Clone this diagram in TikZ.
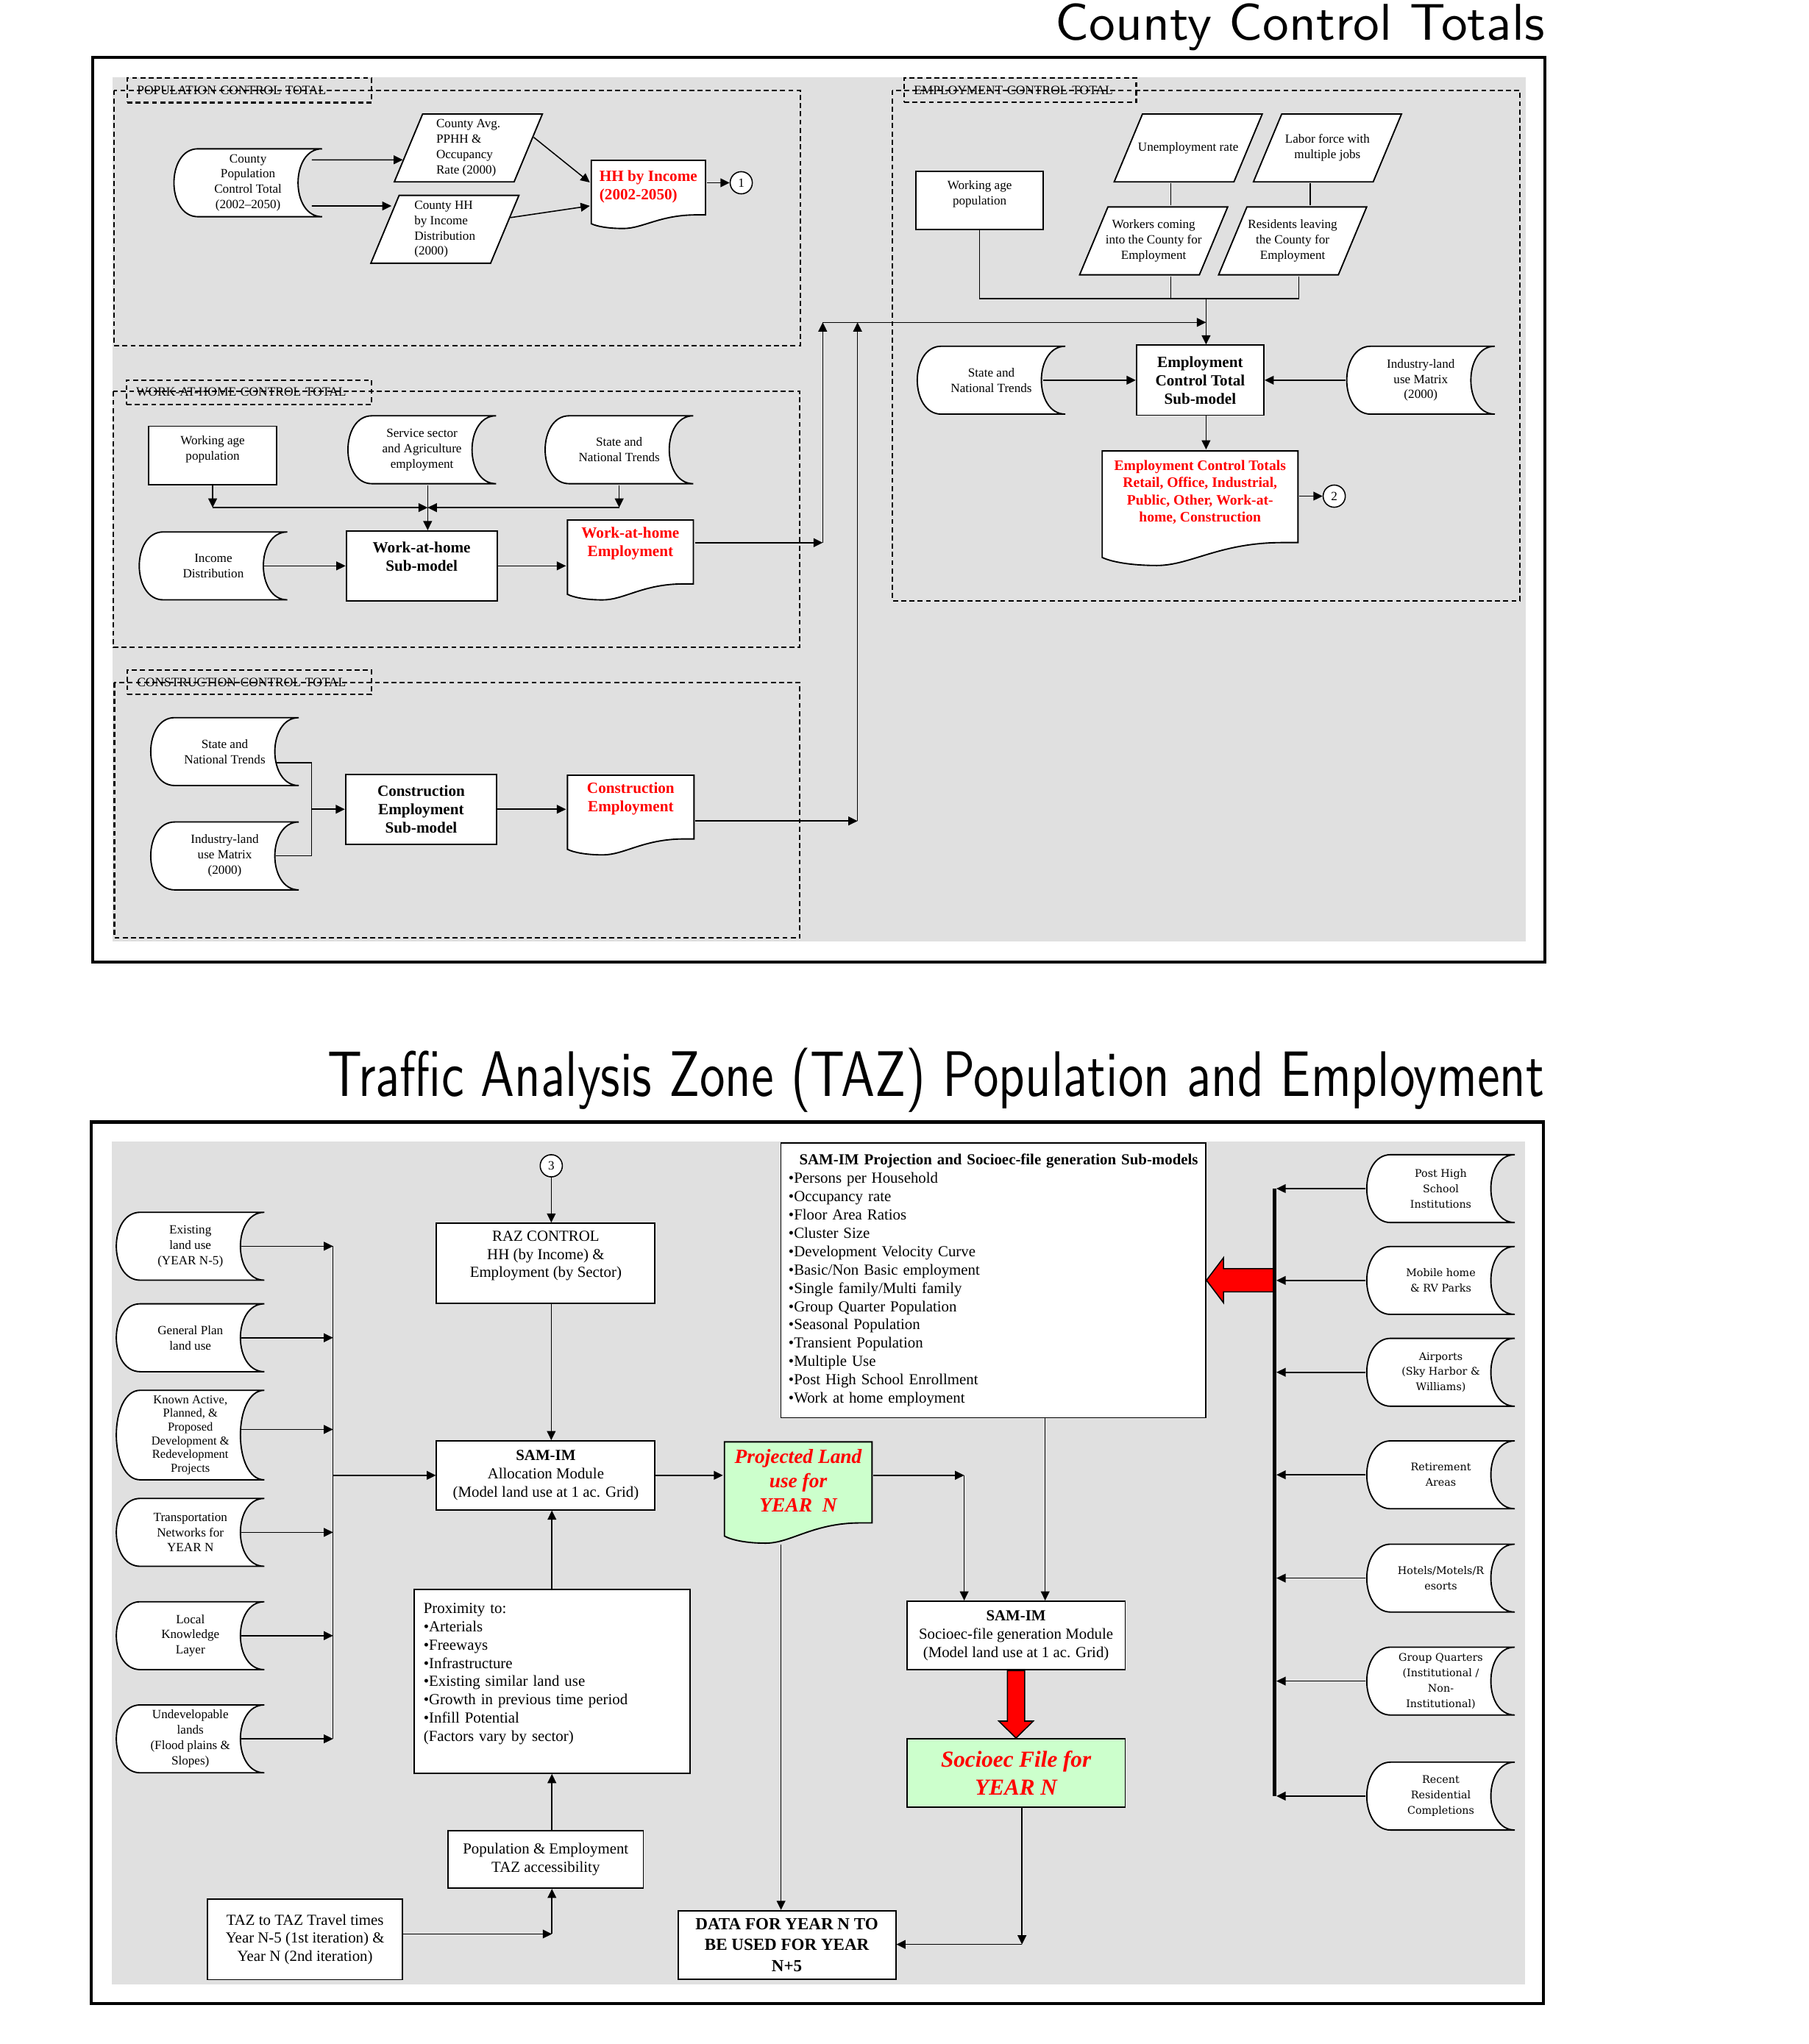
\documentclass[tikz,border=0pt]{standalone}
\usepackage{fontspec}
\setmainfont{Liberation Serif}
\newfontfamily\widefont{DejaVu Serif}
\usetikzlibrary{positioning,calc,arrows.meta}
\definecolor{panelgray}{RGB}{224,224,224}
\definecolor{filegreen}{RGB}{204,255,204}
\tikzset{
  outerframe/.style={draw,line width=1.4pt},
  sectbox/.style={draw,line width=.7pt,dash pattern=on 2.2pt off 1.4pt},
  tabbox/.style={sectbox,minimum height=.374cm,inner xsep=.15cm,inner ysep=0pt,align=left,font=\fontsize{5.6}{6.7}\selectfont},
  boxnode/.style={draw,fill=white,line width=.6pt,inner sep=1pt,align=center},
  boldtxt/.style={font=\fontsize{6.8}{8}\selectfont\bfseries},
  midtxt/.style={font=\fontsize{6.7}{8}\selectfont},
  redtxt/.style={boldtxt,text=red},
  titletxt/.style={font=\sffamily,inner sep=0pt,anchor=base east},
  connector/.style={circle,draw,fill=white,line width=.5pt,minimum size=.34cm,inner sep=0pt},
  fatarrow/.style={draw,fill=red,line width=.5pt},
  storedata/.style={minimum width=2.3cm,minimum height=1.07cm,inner sep=0pt,align=center,
    path picture={
      \draw[line width=.6pt,fill=white]
        let \p1=(path picture bounding box.south west),
            \p2=(path picture bounding box.north east),
            \n1={0.16*(\x2-\x1)} in
        ({\x2-.4pt},{\y2-.4pt}) -- ({\x1+.4pt+\n1},{\y2-.4pt})
        .. controls ({\x1+.4pt-\n1/3},{\y2-.4pt}) and ({\x1+.4pt-\n1/3},{\y1+.4pt}) .. ({\x1+.4pt+\n1},{\y1+.4pt})
        -- ({\x2-.4pt},{\y1+.4pt})
        .. controls ({\x2-.4pt-4*\n1/3},{\y1+.4pt}) and ({\x2-.4pt-4*\n1/3},{\y2-.4pt}) .. ({\x2-.4pt},{\y2-.4pt});
    }},
  rightdata/.style={storedata,font=\widefont\fontsize{4.6}{6.7}\selectfont},
  parabox/.style={minimum width=2.3cm,minimum height=1.07cm,inner sep=0pt,align=center,
    path picture={
      \draw[line width=.6pt,fill=white]
        let \p1=(path picture bounding box.south west),
            \p2=(path picture bounding box.north east),
            \n1={0.195*(\x2-\x1)} in
        ({\x1+\n1},{\y2-.4pt}) -- ({\x2-.4pt},{\y2-.4pt}) -- ({\x2-\n1},{\y1+.4pt}) -- ({\x1+.4pt},{\y1+.4pt}) -- cycle;
    }},
  docshape/.style={inner sep=0pt,align=center,
    path picture={
      \draw[line width=.6pt,fill=#1]
        let \p1=(path picture bounding box.south west),
            \p2=(path picture bounding box.north east),
            \n1={\x2-\x1-.8pt}, \n2={\y2-\y1-.8pt} in
        ({\x1+.4pt},{\y2-.4pt}) -- ({\x2-.4pt},{\y2-.4pt}) -- ({\x2-.4pt},{\y2-.4pt-.8*\n2})
        -- ({\x2-.4pt-.08*\n1},{\y2-.4pt-.8*\n2})
        .. controls ({\x1+.4pt+.6*\n1},{\y2-.4pt-.8*\n2}) and ({\x1+.4pt+.45*\n1},{\y1+.4pt}) .. ({\x1+.4pt+.28*\n1},{\y1+.4pt})
        .. controls ({\x1+.4pt+.15*\n1},{\y1+.4pt}) and ({\x1+.4pt+.05*\n1},{\y1+.4pt+.03*\n2}) .. ({\x1+.4pt},{\y1+.4pt+.07*\n2})
        -- cycle;
    }},
  docshape/.default=white
}
\begin{document}
\begin{tikzpicture}[x=0.02cm,y=-0.02cm,line width=.5pt,>={Triangle[length=4pt,width=3.8pt]},
  every node/.style={font=\fontsize{5.5}{6.7}\selectfont}]
\useasboundingbox (0,0) rectangle (1387,1568);

% county control totals
\node[titletxt] (ttop) at (1185,31) {\resizebox{7.5cm}{0.56cm}{County Control Totals}};
\draw[outerframe] (71,44) rectangle (1185,738);
\fill[panelgray] (86.5,59.3) rectangle (1170,722.3);

% population
\node[tabbox,text width=3.448cm] (poptab) at (191.3,69.35) {POPULATION CONTROL TOTAL};
\draw[sectbox] (87.5,69.2) rectangle (613.7,265.2);
\node[storedata] (ctypop) at (190.2,140.2) {County\\Population\\Control Total\\(2002--2050)};
\node[parabox,align=left] (ctyavg) at (359.2,113.5) {County Avg.\\PPHH \&\\Occupancy\\Rate (2000)};
\node[parabox,align=left] (ctyhh) at (341.2,175.9) {County HH\\by Income\\Distribution\\(2000)};
\node[docshape,redtxt,align=left,minimum width=1.78cm,minimum height=1.074cm] (hhinc) at (497.3,149.15) {HH by Income\\(2002-2050)\\~};
\node[connector] (c1) at (568.5,140.2) {1};
\draw[->] ($(ctypop.east)+(-9,-17.6)$) -- ($(ctyavg.west)+(7.7,9.1)$);
\draw[->] ($(ctypop.east)+(-9,17.8)$) -- ($(ctyhh.west)+(17,-17.9)$);
\draw[->] ($(ctyavg.east)+(-7.8,-8.2)$) -- ($(hhinc.west)+(0,-9.2)$);
\draw[->] ($(ctyhh.east)+(-7.5,-9)$) -- ($(hhinc.west)+(0,8.8)$);
\draw[->] (hhinc.east |- c1) -- (c1);

% work at home
\node[tabbox,text width=3.46cm] (wahtab) at (191,300.9) {WORK-AT-HOME CONTROL TOTAL};
\draw[sectbox] (87,300.4) rectangle (613.5,496.6);
\node[boxnode,minimum width=1.964cm,minimum height=.9cm] (wage) at (163.1,349.5) {Working age\\population\\~};
\node[storedata] (wserv) at (323.65,345) {Service sector\\and Agriculture\\employment};
\node[storedata] (wstate) at (474.9,345) {State and\\National Trends};
\node[storedata] (income) at (163.6,434.1) {Income\\Distribution};
\node[boxnode,boldtxt,minimum width=2.316cm,minimum height=1.072cm] (wahsub) at (323.4,434.1) {Work-at-home\\Sub-model\\~};
\node[docshape,redtxt,minimum width=1.96cm,minimum height=1.254cm] (wahemp) at (483.5,429.55) {Work-at-home\\Employment\\~\\~};
\coordinate (wjoin) at (328,389.4);
\draw[->] (wage.south) -- (wage.south |- wjoin);
\draw[->] (wage.south |- wjoin) -- (wjoin);
\draw[->] (wstate.south) -- (wstate.south |- wjoin);
\draw[->] (wstate.south |- wjoin) -- (wjoin);
\draw[->] (wjoin |- wserv.south) -- (wjoin |- wahsub.north);
\draw[->] ($(income.east)+(-19,0)$) -- (wahsub);
\draw[->] (wahsub) -- (wahsub -| wahemp.west);
\coordinate (wup) at (631,416.3);
\draw[->] (wahemp.east |- wup) -- (wup);

% construction
\node[tabbox,text width=3.446cm] (contab) at (191.25,523.4) {CONSTRUCTION CONTROL TOTAL};
\draw[sectbox] (87.7,523.5) rectangle (613.4,719.5);
\node[storedata] (cstate) at (172.4,576.55) {State and\\National Trends};
\node[storedata] (cind) at (172.4,656.6) {Industry-land\\use Matrix\\(2000)};
\node[boxnode,boldtxt,minimum width=2.32cm,minimum height=1.072cm] (consub) at (323,620.8) {Construction\\Employment\\Sub-model};
\node[docshape,redtxt,minimum width=1.97cm,minimum height=1.25cm] (cemp) at (483.75,625.25) {Construction\\Employment\\~\\~};
\coordinate (cjoin) at (238.9,620.8);
\draw ($(cstate.east)+(-18,8.5)$) -| (cjoin) |- ($(cind.east)+(-19,0)$);
\draw[->] (cjoin) -- (consub);
\draw[->] (consub) -- (consub -| cemp.west);
\coordinate (cup) at (657.7,629.8);
\draw[->] (cemp.east |- cup) -- (cup);

% into employment
\coordinate (merge) at (925,247.3);
\draw[->] (wup) -- (wup |- merge);
\draw[->] (cup) -- (cup |- merge);
\draw[->] (wup |- merge) -- (merge);

% employment
\node[tabbox,text width=3.262cm] (emptab) at (782.45,69.2) {EMPLOYMENT CONTROL TOTAL};
\draw[sectbox] (684.3,69.2) rectangle (1165.7,460.8);
\node[parabox] (unemp) at (911.3,113.5) {Unemployment rate};
\node[parabox] (labor) at (1018.1,113.5) {Labor force with\\multiple jobs};
\node[boxnode,minimum width=1.954cm,minimum height=.892cm] (ewage) at (751.35,153.6) {Working age\\population\\~};
\node[parabox] (workers) at (884.8,184.8) {Workers coming\\into the County for\\Employment};
\node[parabox] (resid) at (991.4,184.8) {Residents leaving\\the County for\\Employment};
\node[storedata] (estate) at (760.3,291.65) {State and\\National Trends};
\node[boxnode,boldtxt,minimum width=1.956cm,minimum height=1.074cm] (empbox) at (920.5,291.65) {Employment\\Control Total\\Sub-model};
\node[storedata] (eind) at (1089.7,291.65) {Industry-land\\use Matrix\\(2000)};
\node[docshape,text=red,font=\fontsize{6.3}{7.45}\selectfont\bfseries,minimum width=3.032cm,minimum height=1.786cm] (empdoc) at (920.4,389.85) {Employment Control Totals\\Retail, Office, Industrial,\\Public, Other, Work-at-\\home, Construction\\~\\~};
\node[connector] (c2) at (1023.3,380.6) {2};
\coordinate (ucol) at (898,229.1);
\coordinate (lcol) at (1005,229.1);
\coordinate (rcol) at (996.2,229.1);
\draw (ucol |- unemp.south) -- (ucol |- workers.north);
\draw (lcol |- labor.south) -- (lcol |- resid.north);
\draw (ucol |- workers.south) -- (ucol);
\draw (rcol |- resid.south) -- (rcol);
\draw (ewage.south) |- (rcol);
\draw[->] (merge |- ucol) -- (merge |- empbox.north);
\draw[->] ($(estate.east)+(-18.4,0)$) -- (empbox);
\draw[->] (eind) -- (empbox);
\draw[->] (merge |- empbox.south) -- (merge |- empdoc.north);
\draw[->] (empdoc.east |- c2) -- (c2);

% traffic analysis zone
\node[titletxt] (tbot) at (1185,841) {\resizebox{18.66cm}{0.74cm}{Traffic Analysis Zone (TAZ) Population and Employment}};
\draw[outerframe] (70,860.8) rectangle (1183.6,1537);
\fill[panelgray] (85.9,875.8) rectangle (1169.5,1522.2);

\node[storedata] (exist) at (146,956) {Existing\\land use\\(YEAR N-5)};
\node[storedata] (genplan) at (146,1026.2) {General Plan\\land use};
\node[storedata,minimum height=1.402cm,font=\fontsize{5.3}{6}\selectfont] (known) at (146,1100.85) {Known Active,\\Planned, \&\\Proposed\\Development \&\\Redevelopment\\Projects};
\node[storedata] (transp) at (146,1175.5) {Transportation\\Networks for\\YEAR N};
\node[storedata] (local) at (146,1254.75) {Local\\Knowledge\\Layer};
\node[storedata] (undev) at (146,1333.9) {Undevelopable\\lands\\(Flood plains \&\\Slopes)};
\coordinate (lbus) at (255.4,956);
\foreach \nm in {exist,genplan,transp,local,undev}{
  \draw[->] ($(\nm.east)+(-19,0)$) -- (\nm -| lbus);
}
\draw[->] ($(known.east)+(-19,-4.3)$) -- ($(known.east -| lbus)+(0,-4.3)$);
\draw (exist -| lbus) -- (undev -| lbus);

\node[connector] (c3) at (422.8,894.3) {3};
\node[boxnode,midtxt,minimum width=3.352cm,minimum height=1.228cm] (raz) at (418.6,969.1) {RAZ CONTROL\\HH (by Income) \&\\Employment (by Sector)\\~};
\node[boxnode,midtxt,minimum width=3.352cm,minimum height=1.058cm] (alloc) at (418.6,1131.75) {\textbf{SAM-IM}\\Allocation Module\\(Model land use at 1 ac. Grid)};
\draw[->] (c3) -- (c3 |- raz.north);
\draw[->] (c3 |- raz.south) -- (c3 |- alloc.north);
\draw[->] (alloc -| lbus) -- (alloc);

\node[boxnode,midtxt,minimum width=4.232cm,minimum height=2.818cm,text width=3.936cm,inner xsep=.148cm,align=left] (prox) at (423.3,1289.85) {Proximity to:\\\textbullet Arterials\\\textbullet Freeways\\\textbullet Infrastructure\\\textbullet Existing similar land use\\\textbullet Growth in previous time period\\\textbullet Infill Potential\\(Factors vary by sector)\\~};
\draw[->] (prox) -- (prox |- alloc.south);
\node[boxnode,midtxt,minimum width=2.994cm,minimum height=.88cm] (poptaz) at (418.55,1426.4) {Population \& Employment\\TAZ accessibility};
\draw[->] (prox.south |- poptaz.north) -- (prox.south);
\node[boxnode,midtxt,minimum width=2.986cm,minimum height=1.232cm] (taz) at (233.95,1487.8) {TAZ to TAZ Travel times\\Year N-5 (1st iteration) \&\\Year N (2nd iteration)};
\coordinate (tazj) at (423.3,1483.6);
\draw[->] (taz.east |- tazj) -- (tazj);
\draw[->] (tazj) -- (tazj |- poptaz.south);

\node[boxnode,midtxt,minimum width=6.518cm,minimum height=4.22cm,text width=6.282cm,inner xsep=.118cm,align=left] (list) at (761.85,982.1) {\hspace*{\fill}\textbf{SAM-IM Projection and Socioec-file generation Sub-models}\hspace*{\fill}\\\textbullet Persons per Household\\\textbullet Occupancy rate\\\textbullet Floor Area Ratios\\\textbullet Cluster Size\\\textbullet Development Velocity Curve\\\textbullet Basic/Non Basic employment\\\textbullet Single family/Multi family\\\textbullet Group Quarter Population\\\textbullet Seasonal Population\\\textbullet Transient Population\\\textbullet Multiple Use\\\textbullet Post High School Enrollment\\\textbullet Work at home employment};

\node[docshape=filegreen,text=red,font=\fontsize{8.8}{10.6}\selectfont\bfseries\itshape,minimum width=2.292cm,minimum height=1.582cm] (proj) at (612.2,1144.95) {Projected Land\\use for\\YEAR\ \ N\\~};
\draw[->] (alloc) -- (alloc -| proj.west);
\node[boxnode,midtxt,minimum width=3.35cm,minimum height=1.054cm] (sfmod) at (779.25,1254.65) {\textbf{SAM-IM}\\Socioec-file generation Module\\(Model land use at 1 ac. Grid)};
\coordinate (pj) at (739.5,1131.75);
\draw[->] (proj.east |- pj) -- (pj);
\draw[->] (pj) -- (pj |- sfmod.north);
\coordinate (lsoc) at (801.6,1087.6);
\draw[->] (lsoc |- list.south) -- (lsoc |- sfmod.north);
\node[boxnode,fill=filegreen,text=red,font=\fontsize{10}{12}\selectfont\bfseries\itshape,minimum width=3.35cm,minimum height=1.048cm] (socio) at (779.25,1360) {Socioec File for\\YEAR N};
\draw[fatarrow] ($(sfmod.south)+(-6.65,0)$) -- ($(socio.north)+(-6.65,-13)$) -- ++(-6.6,0) -- (socio.north)
  -- ($(socio.north)+(13.25,-13)$) -- ++(-6.6,0) -- ($(sfmod.south)+(6.65,0)$) -- cycle;

\node[boxnode,font=\fontsize{7.4}{9.1}\selectfont\bfseries,minimum width=3.34cm,minimum height=1.054cm] (data) at (603.5,1492) {DATA FOR YEAR N TO\\BE USED FOR YEAR\\N+5};
\coordinate (pout) at (599,1184);
\draw[->] (pout |- proj.south) -- (pout |- data.north);
\coordinate (sout) at (783.8,1491.6);
\draw[->] (sout |- socio.south) -- (sout);
\draw[->] (sout) -- (sout -| data.east);

% right inputs
\node[rightdata] (phs) at (1105.05,911.8) {Post High\\School\\Institutions};
\node[rightdata] (mobile) at (1105.05,982.25) {Mobile home\\\& RV Parks};
\node[rightdata] (airport) at (1105.05,1052.7) {Airports\\(Sky Harbor \&\\Williams)};
\node[rightdata] (retire) at (1105.05,1131.35) {Retirement\\Areas};
\node[rightdata] (hotels) at (1105.05,1210.6) {Hotels/Motels/R\\esorts};
\node[rightdata] (group) at (1105.05,1289.6) {Group Quarters\\(Institutional /\\Non-\\Institutional)};
\node[rightdata] (recent) at (1105.05,1377.8) {Recent\\Residential\\Completions};
\coordinate (rbus) at (977.5,911.8);
\draw[fatarrow] (list.east) -- ++(13.1,-17.3) -- ++(0,8.4) -- ($(list.east -| rbus)+(0,-8.9)$)
  -- ($(list.east -| rbus)+(0,8.9)$) -- ($(list.east)+(13.1,8.9)$) -- ++(0,8.4) -- cycle;
\draw[line width=1.7pt] (phs -| rbus) -- (recent -| rbus);
\foreach \nm in {phs,mobile,airport,retire,hotels,group,recent}{
  \draw[->] (\nm) -- ($(\nm -| rbus)+(1.5,0)$);
}
\end{tikzpicture}
\end{document}
